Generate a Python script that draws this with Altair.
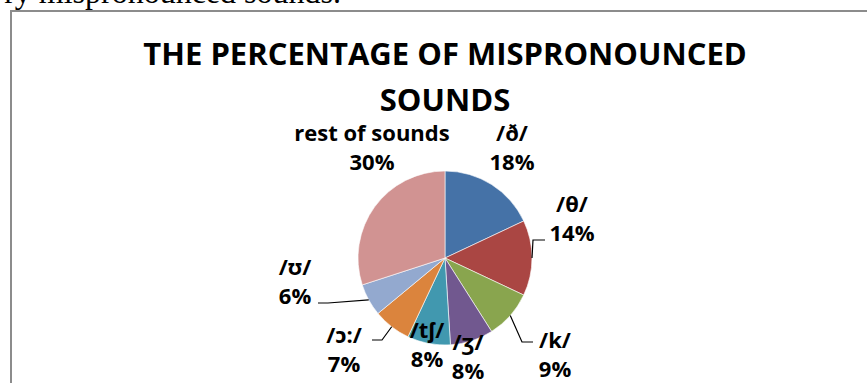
import math
import altair as alt
import pandas as pd

# ---- data ----
sounds = ["/ð/", "/θ/", "/k/", "/ʒ/", "/tʃ/", "/ɔ:/", "/ʊ/", "rest of sounds"]
percent = [18, 14, 9, 8, 8, 7, 6, 30]
colors = ["#4572A7", "#AA4643", "#89A54E", "#71588F", "#4198AF", "#DB843D", "#93A9CF", "#D19392"]
title_text = "THE PERCENTAGE OF MISPRONOUNCED\nSOUNDS"
caption_text = "ry mispronounced sounds."

# ---- layout (pixels) ----
W, H = 868, 383
CX, CY, R = 445, 258, 87
FONT = "Open Sans, Noto Sans, DejaVu Sans"
# first-line baseline of each label, relative to the pie centre
label_offset = [(67, -117), (127, -46), (110, 90), (23, 92),
                (-18, 80), (-101, 85), (-150, 17), (-73, -117)]
# leader line: start relative to label anchor, and horizontal elbow length
leader = {1: (-27, 28, -12), 2: (-22, -6, -11), 5: (28, -3, 10), 6: (23, 28, 10)}

total = sum(percent)
cum = 0
mids = []
for p in percent:
    mids.append((cum + p / 2) / total * 2 * math.pi)
    cum += p

pie_df = pd.DataFrame({"idx": range(len(sounds)), "sound": sounds, "percent": percent})

lab_rows = []
for i, (s, p) in enumerate(zip(sounds, percent)):
    dx, dy = label_offset[i]
    lab_rows.append({"text": f"{s}\n{p}%", "lx": CX + dx, "ly": CY + dy})
lab_df = pd.DataFrame(lab_rows)

lead_rows = []
for i, (sx, sy, ex) in leader.items():
    ax, ay = CX + label_offset[i][0], CY + label_offset[i][1]
    x0, y0 = ax + sx, ay + sy
    x1, y1 = x0 + ex, y0
    x2, y2 = CX + R * math.sin(mids[i]), CY - R * math.cos(mids[i])
    for o, (x, y) in enumerate([(x0, y0), (x1, y1), (x2, y2)]):
        lead_rows.append({"g": sounds[i], "o": o, "x": x, "y": y})
lead_df = pd.DataFrame(lead_rows)

one = pd.DataFrame({"t": [0]})

pie = alt.Chart(pie_df).mark_arc(radius=R, stroke="white", strokeWidth=0.6).encode(
    theta=alt.Theta("percent:Q", stack=True),
    color=alt.Color("sound:N", scale=alt.Scale(domain=sounds, range=colors), legend=None),
    order=alt.Order("idx:Q"),
    x=alt.value(CX),
    y=alt.value(CY),
)

labels = alt.Chart(lab_df).mark_text(
    font=FONT, fontWeight="bold", fontSize=22, lineBreak="\n", lineHeight=28.5,
    align="center", baseline="alphabetic", color="black",
).encode(
    x=alt.X("lx:Q", scale=None, axis=None),
    y=alt.Y("ly:Q", scale=None, axis=None),
    text="text:N",
)

leaders = alt.Chart(lead_df).mark_line(color="black", strokeWidth=1.2).encode(
    x=alt.X("x:Q", scale=None, axis=None),
    y=alt.Y("y:Q", scale=None, axis=None),
    detail="g:N",
    order="o:Q",
)

title = alt.Chart(one).mark_text(
    text=title_text, font=FONT, fontWeight="bold", fontSize=31, lineBreak="\n",
    lineHeight=45.7, align="center", baseline="alphabetic", color="black",
).encode(x=alt.value(CX), y=alt.value(65))

caption = alt.Chart(one).mark_text(
    text=caption_text, font="Liberation Serif, Times New Roman, serif", fontSize=32,
    align="right", baseline="alphabetic", color="black",
).encode(x=alt.value(341), y=alt.value(3))

border_top = alt.Chart(one).mark_rule(color="#8c8c8c", strokeWidth=2).encode(
    x=alt.value(10), x2=alt.value(867), y=alt.value(11))
border_left = alt.Chart(one).mark_rule(color="#8c8c8c", strokeWidth=2).encode(
    x=alt.value(11), y=alt.value(10), y2=alt.value(H))

chart = alt.layer(
    border_top, border_left, caption, pie, leaders, labels, title
).properties(
    width=W, height=H, padding=0, background="white",
    autosize=alt.AutoSizeParams(type="none"),
).configure_view(stroke=None)

chart.save("out.html", embed_options={"renderer": "svg", "actions": False})
